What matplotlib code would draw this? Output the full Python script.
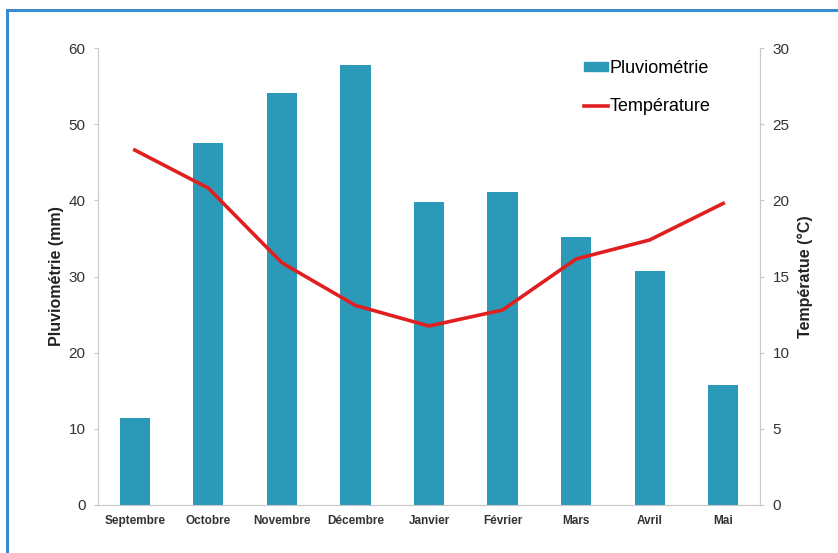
import numpy as np
import matplotlib.pyplot as plt
from matplotlib.patches import Rectangle
from matplotlib.lines import Line2D
from matplotlib.patches import Patch

# Data
mois = ['Septembre', 'Octobre', 'Novembre', 'Décembre', 'Janvier',
        'Février', 'Mars', 'Avril', 'Mai']
pluie = [11.4, 47.5, 54.1, 57.8, 39.8, 41.1, 35.2, 30.7, 15.8]
temp = [23.3, 20.8, 15.9, 13.1, 11.75, 12.8, 16.15, 17.4, 19.8]

plt.rcParams['font.family'] = ['Liberation Sans', 'DejaVu Sans']

fig = plt.figure(figsize=(8.38, 5.53), dpi=100)
ax = fig.add_axes([98 / 838, 1 - 505 / 553, (760 - 98) / 838, (505 - 48) / 553])

x = np.arange(len(mois))
bar_col = '#2a9ab8'
ax.bar(x, pluie, width=0.41, color=bar_col, zorder=2)
ax.set_xlim(-0.5, len(mois) - 0.5)
ax.set_ylim(0, 60)
ax.set_yticks(range(0, 61, 10))
ax.set_xticks(x)
ax.set_xticklabels(mois, fontsize=8.5, fontweight='bold', color='#333333')
ax.tick_params(axis='x', length=0, pad=7)
ax.tick_params(axis='y', length=3, color='#c8c8c8', labelsize=11,
               labelcolor='#333333', pad=6)
ax.set_ylabel('Pluviométrie (mm)', fontsize=11.5, fontweight='bold',
              color='#222222', labelpad=3)
for s in ['top', 'right']:
    ax.spines[s].set_visible(False)
for s in ['left', 'bottom']:
    ax.spines[s].set_color('#c8c8c8')

ax2 = ax.twinx()
ax2.plot(x, temp, color='#e02020', lw=2.6, zorder=3)
ax2.set_ylim(0, 30)
ax2.set_yticks(range(0, 31, 5))
ax2.tick_params(axis='y', length=3, color='#c8c8c8', labelsize=11,
                labelcolor='#333333', pad=6)
ax2.set_ylabel('Températue (°C)', fontsize=11.5, fontweight='bold',
               color='#222222', labelpad=6)
for s in ['top', 'left', 'bottom']:
    ax2.spines[s].set_visible(False)
ax2.spines['right'].set_color('#c8c8c8')

handles = [Patch(color=bar_col), Line2D([], [], color='#e02020', lw=2.6)]
ax2.legend(handles, ['Pluviométrie', 'Température'], loc='upper right',
           bbox_to_anchor=(0.95, 1.01), frameon=False, fontsize=13,
           handlelength=1.3, handletextpad=0.1, labelspacing=1.2,
           handleheight=0.4)

# blue frame around the figure, cut on the right and bottom
fig.patches.append(Rectangle((7 / 838, -0.05), 1.1, 1 - 10 / 553 + 0.05,
                             transform=fig.transFigure, fill=False,
                             edgecolor='#3a8ad0', lw=2.2))

fig.savefig('out.png', dpi=100)
